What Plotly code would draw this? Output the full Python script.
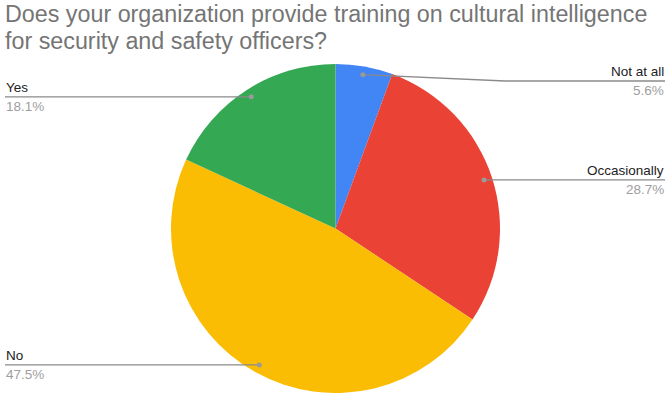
import math
import plotly.graph_objects as go

# Survey responses
labels = ["Not at all", "Occasionally", "No", "Yes"]
values = [5.6, 28.7, 47.5, 18.1]
colors = ["#4285F4", "#EA4335", "#FBBC04", "#34A853"]
title_lines = ["Does your organization provide training on cultural intelligence",
               "for security and safety officers?"]

W, H = 671, 393
M_TOP = 64
plot_h = H - M_TOP
radius = min(W, plot_h) / 2
cx, cy = W / 2, M_TOP + plot_h / 2
FONT = "Liberation Sans, Arial"


def px(x):
    return x / W


def py(y):
    return (H - y) / plot_h


fig = go.Figure(go.Pie(
    labels=labels, values=values, sort=False, direction="clockwise",
    rotation=0, marker=dict(colors=colors, line=dict(width=0)),
    textinfo="none", hoverinfo="label+percent", showlegend=False,
    domain=dict(x=[0, 1], y=[0, 1]),
))

# Leader lines, dots and outside labels
side = {"Not at all": "right", "Occasionally": "right", "No": "left", "Yes": "left"}
elbow_y = {"Not at all": 81}
total = sum(values)
cum = 0.0
shapes, annotations = [], []
for lab, val in zip(labels, values):
    mid = (cum + val / 2) / total * 2 * math.pi
    cum += val
    dx, dy = cx + 0.95 * radius * math.sin(mid), cy - 0.95 * radius * math.cos(mid)
    ly = elbow_y.get(lab, dy)
    if side[lab] == "right":
        x_end, anchor = W - 6, "right"
        x_bend = 505 if lab in elbow_y else dx
    else:
        x_end, anchor = 5, "left"
        x_bend = dx
    path = f"M {px(dx)} {py(dy)} L {px(x_bend)} {py(ly)} L {px(x_end)} {py(ly)}"
    shapes.append(dict(type="path", xref="paper", yref="paper", path=path,
                       line=dict(color="#8a8a8a", width=1.3)))
    shapes.append(dict(type="circle", xref="paper", yref="paper",
                       x0=px(dx - 2.5), x1=px(dx + 2.5), y0=py(dy + 2.5), y1=py(dy - 2.5),
                       fillcolor="#9a9a9a", line=dict(width=0)))
    annotations.append(dict(text=lab, x=px(x_end), y=py(ly - 1), xref="paper", yref="paper",
                            xanchor=anchor, yanchor="bottom", showarrow=False,
                            font=dict(size=13.5, color="#222222", family=FONT),
                            borderpad=0))
    annotations.append(dict(text=f"{val}%", x=px(x_end), y=py(ly + 1), xref="paper", yref="paper",
                            xanchor=anchor, yanchor="top", showarrow=False,
                            font=dict(size=13.5, color="#9e9e9e", family=FONT),
                            borderpad=0))

# Two-line title, each line placed on its own for tight spacing
for i, line in enumerate(title_lines):
    annotations.append(dict(text=line, x=px(4), y=py(0 + 26.5 * i), xref="paper", yref="paper",
                            xanchor="left", yanchor="top", align="left", showarrow=False,
                            font=dict(size=23.3, color="#757575", family=FONT),
                            borderpad=0))

fig.update_layout(
    width=W, height=H, margin=dict(l=0, r=0, t=M_TOP, b=0),
    paper_bgcolor="white", plot_bgcolor="white",
    shapes=shapes, annotations=annotations,
)

fig.write_html("out.html")
